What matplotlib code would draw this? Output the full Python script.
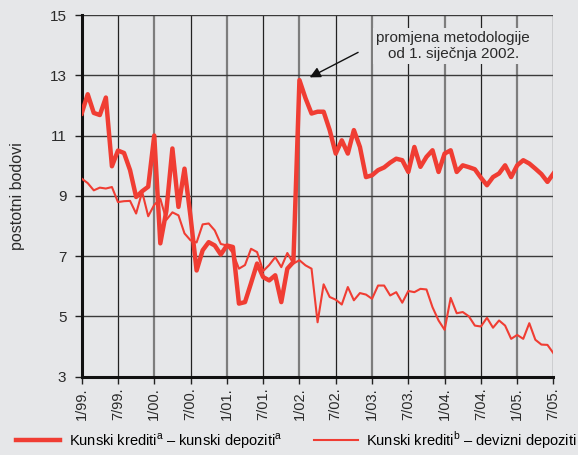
import matplotlib
matplotlib.use('Agg')
import matplotlib.pyplot as plt
import numpy as np

# Stil: svijetlosiva pozadina, Arial-slican font
plt.rcParams.update({
    'font.family': ['Liberation Sans', 'DejaVu Sans'],
    'mathtext.fontset': 'custom',
    'mathtext.rm': 'Liberation Sans',
    'font.size': 10.5,
})

BG = '#e6e7e9'
RED = '#f03d33'

# Mjesecni podaci, sijecanj 1999. - srpanj 2005.
kn_kn = [11.73, 12.37, 11.75, 11.68, 12.26, 9.98, 10.5, 10.42, 9.85, 8.96,
         9.15, 9.3, 11.0, 7.42, 8.5, 10.57, 8.63, 9.9, 8.3, 6.52,
         7.19, 7.46, 7.35, 7.05, 7.35, 7.3, 5.42, 5.47, 6.1, 6.75,
         6.3, 6.19, 6.36, 5.47, 6.58, 6.8, 12.84, 12.24, 11.73, 11.79,
         11.79, 11.18, 10.4, 10.84, 10.4, 11.18, 10.62, 9.62, 9.68, 9.85,
         9.94, 10.1, 10.23, 10.18, 9.79, 10.62, 9.96, 10.29, 10.51, 9.79,
         10.4, 10.51, 9.79, 10.01, 9.95, 9.88, 9.6, 9.35, 9.62, 9.74,
         10.01, 9.62, 10.01, 10.18, 10.07, 9.9, 9.72, 9.46, 9.74]
kn_dev = [9.57, 9.42, 9.18, 9.27, 9.24, 9.29, 8.79, 8.82, 8.83, 8.41,
          9.13, 8.32, 8.7, 8.9, 8.2, 8.45, 8.35, 7.75, 7.52, 7.45,
          8.05, 8.08, 7.85, 7.4, 7.35, 7.1, 6.58, 6.7, 7.24, 7.13,
          6.5, 6.7, 6.96, 6.63, 7.1, 6.75, 6.86, 6.69, 6.58, 4.8,
          6.06, 5.64, 5.55, 5.39, 5.97, 5.53, 5.77, 5.72, 5.58, 6.02,
          6.02, 5.69, 5.8, 5.45, 5.84, 5.8, 5.91, 5.89, 5.3, 4.86,
          4.55, 5.61, 5.1, 5.14, 5.0, 4.69, 4.66, 4.95, 4.62, 4.86,
          4.69, 4.25, 4.38, 4.25, 4.77, 4.22, 4.06, 4.05, 3.77]
tick_labels = ['1/99.', '7/99.', '1/00.', '7/00.', '1/01.', '7/01.', '1/02.',
               '7/02.', '1/03.', '7/03.', '1/04.', '7/04.', '1/05.', '7/05.']
y_ticks = [3, 5, 7, 9, 11, 13, 15]

months = np.arange(len(kn_kn))
tick_pos = np.arange(0, len(kn_kn), 6)

fig = plt.figure(figsize=(5.78, 4.55), dpi=100, facecolor=BG)
ax = fig.add_axes([0.1413, 0.1725, 0.8163, 0.7945], facecolor=BG)

# mreza: sijecanj sivo i deblje, srpanj crno
for i, p in enumerate(tick_pos):
    if i % 2 == 0:
        ax.axvline(p, color='#7d7d7d', lw=1.6, zorder=1)
    else:
        ax.axvline(p, color='#222222', lw=0.9, zorder=1)
for v in y_ticks:
    ax.axhline(v, color='#3a3a3a', lw=1.0, zorder=1)

ax.plot(months, kn_kn, color=RED, lw=3.2, solid_joinstyle='round',
        label=r'Kunski krediti$^{\rm a}$ – kunski depoziti$^{\rm a}$', zorder=3)
ax.plot(months, kn_dev, color=RED, lw=1.5,
        label=r'Kunski krediti$^{\rm b}$ – devizni depoziti', zorder=3)

ax.set_xlim(0, len(kn_kn) - 1)
ax.set_ylim(3, 15)
ax.set_xticks(tick_pos)
ax.set_xticklabels(tick_labels, rotation=90, fontsize=10.5, color='#2a2a2a')
ax.set_yticks(y_ticks)
ax.set_yticklabels([str(v) for v in y_ticks], fontsize=11, color='#2a2a2a')
ax.tick_params(axis='both', direction='out', length=5, width=1, color='#222222')
ax.tick_params(axis='x', pad=3)
ax.tick_params(axis='y', pad=6)

for s in ['top', 'right']:
    ax.spines[s].set_visible(False)
for s in ['left', 'bottom']:
    ax.spines[s].set_linewidth(2.2)
    ax.spines[s].set_color('#111111')

ax.set_ylabel('postotni bodovi', fontsize=11.5, color='#2a2a2a')
ax.yaxis.set_label_coords(-0.12, 0.5)

# napomena o promjeni metodologije
ax.text(61.4, 13.97, 'promjena metodologije\nod 1. siječnja 2002.',
        ha='center', va='center', fontsize=11, color='#2a2a2a',
        linespacing=1.25, zorder=5,
        bbox=dict(boxstyle='square,pad=0.2', fc=BG, ec='none'))
ax.annotate('', xy=(37.7, 12.93), xytext=(45.7, 13.76),
            arrowprops=dict(arrowstyle='-|>', color='#111111', lw=1,
                            mutation_scale=16, shrinkA=0, shrinkB=0),
            zorder=5)

fig.legend(loc='lower center', bbox_to_anchor=(0.513, -0.02), ncol=2,
           frameon=False, fontsize=10.5, handlelength=3, columnspacing=2.2,
           handletextpad=0.6)

fig.savefig('out.png', dpi=100, facecolor=BG)
